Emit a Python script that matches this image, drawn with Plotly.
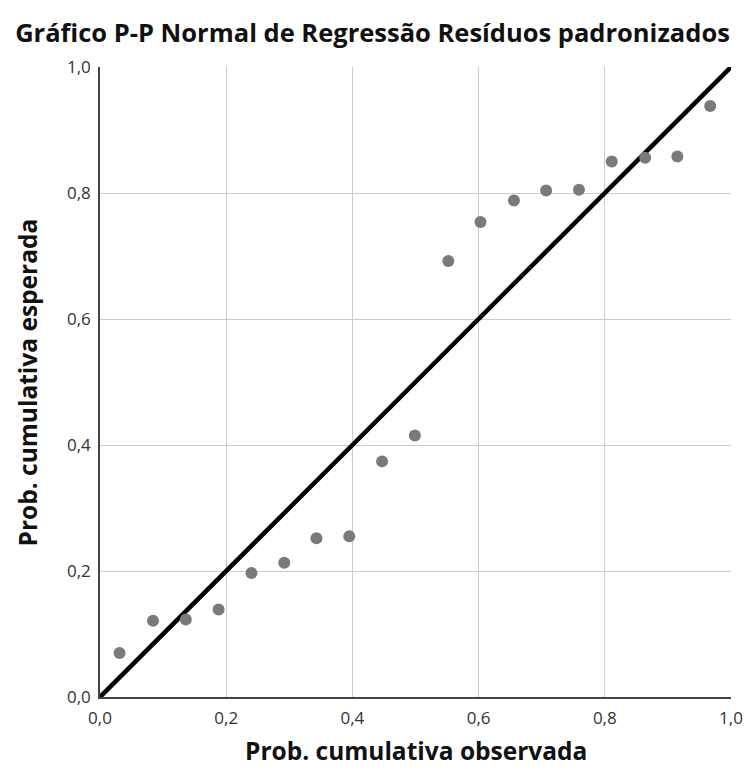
import plotly.graph_objects as go

# Observed vs expected cumulative probability of standardized residuals
prob_observada = [0.031, 0.084, 0.136, 0.188, 0.240, 0.292, 0.343, 0.395,
                  0.447, 0.499, 0.552, 0.603, 0.656, 0.707, 0.759, 0.811,
                  0.864, 0.915, 0.967]
prob_esperada = [0.070, 0.121, 0.123, 0.139, 0.197, 0.213, 0.252, 0.255,
                 0.374, 0.415, 0.692, 0.754, 0.788, 0.804, 0.805, 0.850,
                 0.856, 0.858, 0.938]

# Reference line for a perfectly normal distribution
linha_ref = [0.0, 1.0]

tick_vals = [0.0, 0.2, 0.4, 0.6, 0.8, 1.0]
tick_text = ["0,0", "0,2", "0,4", "0,6", "0,8", "1,0"]

FONT = "Open Sans, sans-serif"

fig = go.Figure()
fig.add_trace(go.Scatter(
    x=linha_ref, y=linha_ref, mode="lines",
    line=dict(color="black", width=4.5),
    hoverinfo="skip", showlegend=False,
))
fig.add_trace(go.Scatter(
    x=prob_observada, y=prob_esperada, mode="markers",
    marker=dict(color="#7a7a7a", size=12),
    showlegend=False,
))

axis_common = dict(
    range=[0, 1], tickvals=tick_vals, ticktext=tick_text,
    showgrid=True, gridcolor="#cccccc", gridwidth=1,
    showline=True, linecolor="#444444", linewidth=1.5,
    zeroline=False, ticks="", automargin=False,
    tickfont=dict(family=FONT, size=17, color="#333333"),
    fixedrange=True,
)

fig.update_layout(
    width=745, height=774,
    margin=dict(l=100, r=14, t=67, b=77),
    paper_bgcolor="white", plot_bgcolor="white",
    title=dict(
        text="<b>Gráfico P-P Normal de Regressão Resíduos padronizados</b>",
        x=0.5, xanchor="center", y=0.957, yanchor="middle",
        font=dict(family=FONT, size=25.5, color="#111111"),
    ),
    xaxis=dict(axis_common, ticklabelstandoff=5),
    yaxis=dict(axis_common, ticklabelstandoff=4),
    annotations=[
        dict(text="<b>Prob. cumulativa observada</b>", xref="paper", yref="paper",
             x=0.5, y=-0.085, xanchor="center", yanchor="middle", showarrow=False,
             font=dict(family=FONT, size=24.5, color="#111111")),
        dict(text="<b>Prob. cumulativa esperada</b>", xref="paper", yref="paper",
             x=-0.115, y=0.5, xanchor="center", yanchor="middle", textangle=-90,
             showarrow=False, font=dict(family=FONT, size=24.5, color="#111111")),
    ],
)

fig.write_html("out.html")
